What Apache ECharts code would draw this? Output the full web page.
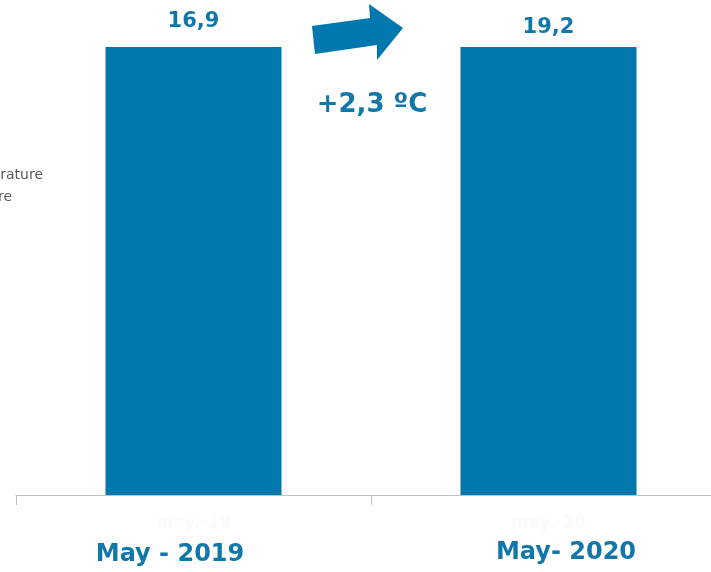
<!DOCTYPE html>
<html>
<head>
<meta charset="utf-8">
<script src="https://cdn.jsdelivr.net/npm/echarts@6/dist/echarts.min.js"></script>
<style>
  html, body { margin: 0; padding: 0; background: #fff; }
  #chart { width: 711px; height: 572px; }
</style>
</head>
<body>
<div id="chart"></div>
<script>
  // categories and values
  const categories = ['may.-19', 'may.-20']
  const periodLabels = ['May - 2019', 'May- 2020']
  const temperatures = [16.9, 19.2]
  const changeText = '+2,3 ºC'
  const legendLines = ['Average temperature', 'Temperature']

  const blue = '#0077ad'
  const textBlue = '#1177aa'
  const font = 'DejaVu Sans, Verdana, sans-serif'

  const chartDom = echarts.init(document.getElementById('chart'))

  const fmt = (v) => String(v).replace('.', ',')

  chartDom.setOption({
    animation: false,
    grid: {
      left: 16,
      right: -15,
      top: 47,
      bottom: 77,
      containLabel: false,
      outerBoundsMode: 'none'
    },
    xAxis: {
      type: 'category',
      data: categories,
      axisLine: { lineStyle: { color: '#c0c0c0', width: 1 } },
      axisTick: { show: true, length: 10, lineStyle: { color: '#c0c0c0' } },
      axisLabel: {
        color: '#fbfbfb',
        fontFamily: font,
        fontWeight: 'bold',
        fontSize: 17,
        margin: 20
      }
    },
    yAxis: {
      type: 'value',
      min: 0,
      max: 16.9,
      show: false,
      splitLine: { show: false }
    },
    series: [
      {
        type: 'bar',
        data: temperatures.map((v, i) => ({
          value: v,
          label: { distance: i === 0 ? 15 : 9 }
        })),
        barWidth: 176,
        itemStyle: { color: blue },
        label: {
          show: true,
          position: 'top',
          formatter: (p) => fmt(p.value),
          color: textBlue,
          fontFamily: font,
          fontWeight: 'bold',
          fontSize: 21
        }
      }
    ],
    graphic: [
      // legend text cut at the left border
      {
        type: 'text', x: 43, y: 168,
        style: { text: legendLines[0], align: 'right', fill: '#595959', font: '14px ' + font }
      },
      {
        type: 'text', x: 12, y: 190,
        style: { text: legendLines[1], align: 'right', fill: '#595959', font: '14px ' + font }
      },
      // arrow
      {
        type: 'polygon',
        shape: {
          points: [[312, 26], [370, 18], [369, 4], [403, 28], [377, 60], [377, 45], [315, 54]]
        },
        style: { fill: blue }
      },
      {
        type: 'text', x: 372, y: 92,
        style: { text: changeText, align: 'center', fill: textBlue, font: 'bold 26px ' + font }
      },
      {
        type: 'text', x: 170, y: 543,
        style: { text: periodLabels[0], align: 'center', fill: textBlue, font: 'bold 24px ' + font }
      },
      {
        type: 'text', x: 566, y: 541,
        style: { text: periodLabels[1], align: 'center', fill: textBlue, font: 'bold 24px ' + font }
      }
    ]
  })
</script>
</body>
</html>
